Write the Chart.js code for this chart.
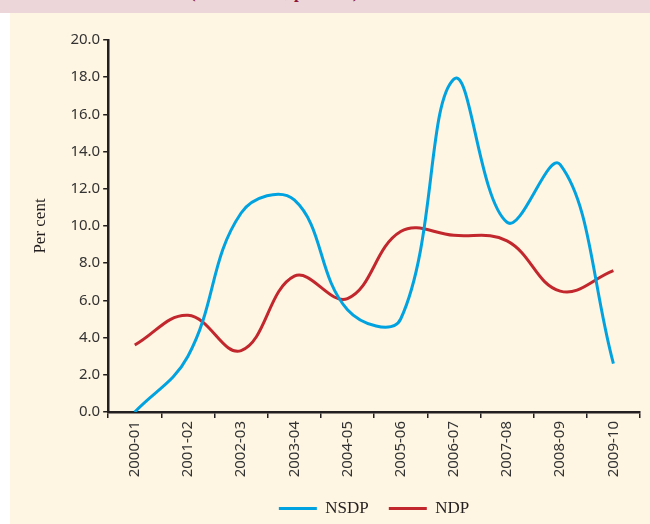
<!DOCTYPE html>
<html lang="en">
<head>
<meta charset="UTF-8">
<title>NSDP and NDP growth</title>
<script src="https://cdn.jsdelivr.net/npm/chart.js@4.4.1/dist/chart.umd.min.js"></script>
<style>
  html, body { margin: 0; padding: 0; width: 650px; height: 524px; overflow: hidden; background: #ffffff; }
  #band { position: absolute; left: 0; top: 0; width: 650px; height: 13px; background: #ecd6da; overflow: hidden; }
  #band span { position: absolute; left: 190px; top: -17px; font: bold 17px "Liberation Serif", serif; color: #8a1538; white-space: nowrap; }
  #panel { position: absolute; left: 10px; top: 13px; width: 640px; height: 511px; background: #fef5e2; }
  #wrap { position: absolute; left: 10px; top: 13px; width: 640px; height: 514px; }
</style>
</head>
<body>
<div id="band"><span>(Growth rate, per cent)</span></div>
<div id="panel"></div>
<div id="wrap"><canvas id="myChart"></canvas></div>
<script>
  // values
  const years = ["2000-01", "2001-02", "2002-03", "2003-04", "2004-05", "2005-06", "2006-07", "2007-08", "2008-09", "2009-10"];
  const nsdp = [0.0, 3.0, 10.7, 11.4, 5.5, 5.0, 17.9, 10.2, 13.3, 2.6];
  const ndp = [3.6, 5.2, 3.3, 7.3, 6.1, 9.7, 9.5, 9.2, 6.5, 7.6];

  const axisColor = "#231f20";
  const tickFont = { family: "'Noto Sans', sans-serif", size: 15 };

  const ctx = document.getElementById("myChart");
  new Chart(ctx, {
    type: "line",
    data: {
      labels: years,
      datasets: [
        { label: "NSDP", data: nsdp, borderColor: "#00a3e0", backgroundColor: "#00a3e0", borderWidth: 3, tension: 0.4, pointRadius: 0 },
        { label: "NDP", data: ndp, borderColor: "#c1272d", backgroundColor: "#c1272d", borderWidth: 3, tension: 0.4, pointRadius: 0 }
      ]
    },
    options: {
      responsive: true,
      maintainAspectRatio: false,
      animation: false,
      layout: { padding: { top: 27, right: 10, left: 16, bottom: 0 } },
      plugins: {
        tooltip: { enabled: false },
        legend: {
          position: "bottom",
          fullSize: false,
          labels: {
            usePointStyle: true,
            pointStyle: "line",
            pointStyleWidth: 38,
            padding: 20,
            color: "#231f20",
            font: { family: "'Liberation Serif', serif", size: 17 }
          }
        }
      },
      scales: {
        x: {
          offset: true,
          grid: { offset: true, drawOnChartArea: false, drawTicks: true, tickLength: 6, color: axisColor, lineWidth: 1.5 },
          border: { color: axisColor, width: 2.5 },
          ticks: { color: "#333", font: tickFont, maxRotation: 90, minRotation: 90, padding: 3 },
          afterFit: function (scale) { scale.height = 68; }
        },
        y: {
          min: 0,
          max: 20,
          ticks: { stepSize: 2, color: "#333", font: tickFont, padding: 3, callback: v => v.toFixed(1) },
          grid: { drawOnChartArea: false, drawTicks: true, tickLength: 5, color: axisColor, lineWidth: 1.5 },
          border: { color: axisColor, width: 2.5 },
          title: { display: true, text: "Per cent", color: "#231f20", font: { family: "'Liberation Serif', serif", size: 17 }, padding: { top: 4, bottom: 17 } }
        }
      }
    }
  });
</script>
</body>
</html>
